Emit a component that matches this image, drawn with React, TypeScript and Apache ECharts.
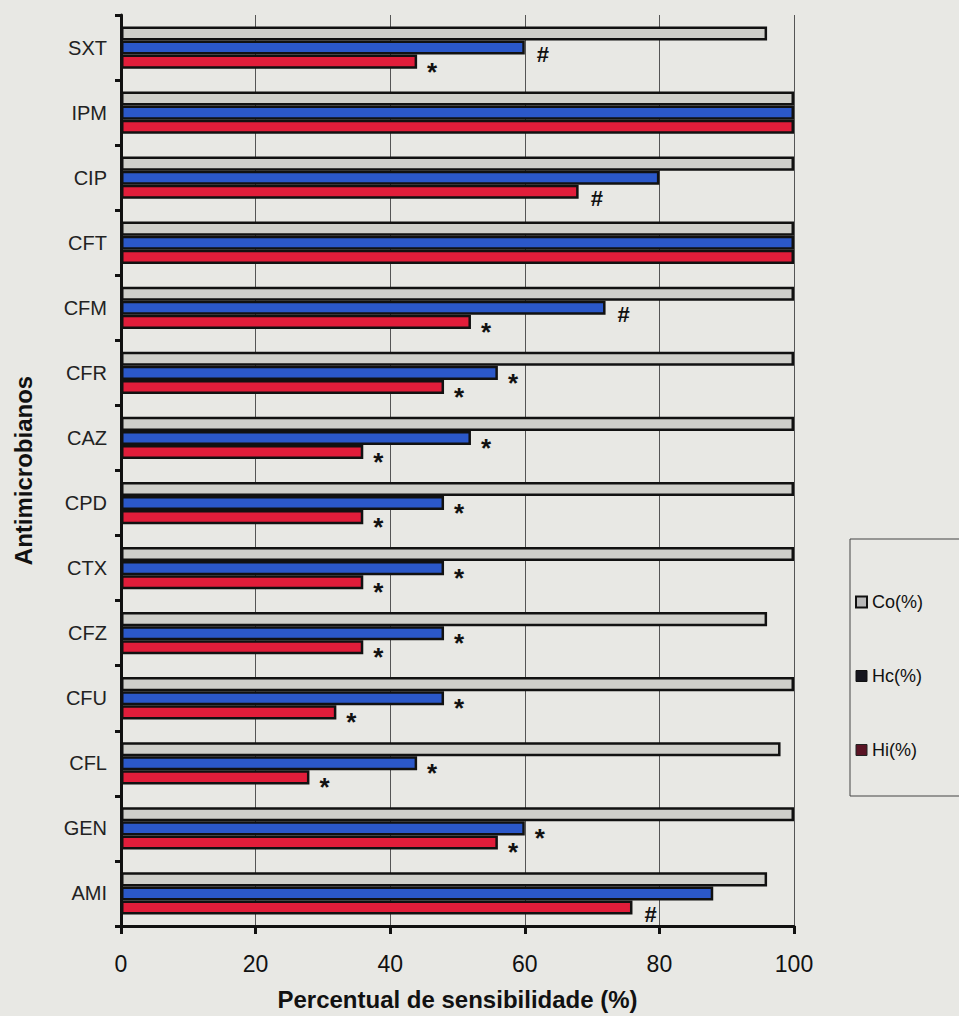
import React, { useEffect, useRef } from "react";
import * as echarts from "echarts";

const categories = ["SXT", "IPM", "CIP", "CFT", "CFM", "CFR", "CAZ", "CPD", "CTX", "CFZ", "CFU", "CFL", "GEN", "AMI"];
const coValues = [96, 100, 100, 100, 100, 100, 100, 100, 100, 96, 100, 98, 100, 96];
const hcValues = [60, 100, 80, 100, 72, 56, 52, 48, 48, 48, 48, 44, 60, 88];
const hiValues = [44, 100, 68, 100, 52, 48, 36, 36, 36, 36, 32, 28, 56, 76];
const hcMarks = ["#", "", "", "", "#", "*", "*", "*", "*", "*", "*", "*", "*", ""];
const hiMarks = ["*", "", "#", "", "*", "*", "*", "*", "*", "*", "*", "*", "*", "#"];
const xTicks = [0, 20, 40, 60, 80, 100];
const seriesNames = ["Co(%)", "Hc(%)", "Hi(%)"];

const FONT = '"Liberation Sans", Arial, sans-serif';

const markLabel = (m: string) =>
  m
    ? {
        show: true,
        formatter: m,
        position: "right",
        distance: m === "#" ? 8 : 6,
        offset: m === "#" ? [4, 7] : [4, 10],
        fontSize: m === "#" ? 22 : 26,
        fontWeight: "bold",
        fontFamily: FONT,
        color: "#111",
      }
    : { show: false };

export default function App() {
  const ref = useRef<HTMLDivElement>(null);
  useEffect(() => {
    document.body.style.margin = "0";
    const chart = echarts.init(ref.current!, null, { renderer: "svg" });
    chart.setOption({
      animation: false,
      backgroundColor: "#e8e8e4",
      grid: { left: 121, right: 165, top: 15, bottom: 88, containLabel: false },
      legend: {
        orient: "vertical",
        left: 850,
        top: 539,
        padding: [54, 60, 37, 5],
        itemGap: 56,
        itemWidth: 11,
        itemHeight: 11,
        borderColor: "#444",
        borderWidth: 1,
        textStyle: { fontSize: 18, color: "#111", fontFamily: FONT },
        data: [
          { name: seriesNames[0], icon: "rect", itemStyle: { color: "#b8b8b8", borderColor: "#111", borderWidth: 2 } },
          { name: seriesNames[1], icon: "rect", itemStyle: { color: "#16161e", borderColor: "#111", borderWidth: 1 } },
          { name: seriesNames[2], icon: "rect", itemStyle: { color: "#5a1424", borderColor: "#222", borderWidth: 1 } },
        ],
      },
      xAxis: {
        type: "value",
        min: 0,
        max: 100,
        interval: 20,
        name: "Percentual de sensibilidade (%)",
        nameLocation: "middle",
        nameGap: 61,
        nameTextStyle: { fontSize: 24, fontWeight: "bold", color: "#111", fontFamily: FONT },
        axisLine: { show: true, lineStyle: { color: "#111", width: 3 } },
        axisTick: { show: true, length: 8, lineStyle: { color: "#111", width: 3 } },
        axisLabel: {
          fontSize: 23,
          color: "#111",
          margin: 26,
          fontFamily: FONT,
          formatter: (v: number) => (xTicks.includes(v) ? String(v) : ""),
        },
        splitLine: { show: true, lineStyle: { color: "#555", width: 1 } },
      },
      yAxis: {
        type: "category",
        data: categories,
        inverse: true,
        name: "Antimicrobianos",
        nameLocation: "middle",
        nameRotate: 90,
        nameGap: 86,
        nameTextStyle: { fontSize: 24, fontWeight: "bold", color: "#111", fontFamily: FONT },
        axisLine: { show: true, lineStyle: { color: "#111", width: 3 } },
        axisTick: { show: true, length: 6, lineStyle: { color: "#111", width: 3 } },
        axisLabel: { fontSize: 20, color: "#222", margin: 14, fontFamily: FONT },
      },
      series: [
        {
          name: seriesNames[0],
          type: "bar",
          barGap: "0%",
          barCategoryGap: "35%",
          itemStyle: { color: "#cfcfca", borderColor: "#111", borderWidth: 2.5 },
          data: coValues,
        },
        {
          name: seriesNames[1],
          type: "bar",
          itemStyle: { color: "#2b58c9", borderColor: "#111", borderWidth: 2.5 },
          data: hcValues.map((v, i) => ({ value: v, label: markLabel(hcMarks[i]) })),
        },
        {
          name: seriesNames[2],
          type: "bar",
          itemStyle: { color: "#e11d3a", borderColor: "#111", borderWidth: 2.5 },
          data: hiValues.map((v, i) => ({ value: v, label: markLabel(hiMarks[i]) })),
        },
      ],
    });
    return () => chart.dispose();
  }, []);
  return <div ref={ref} style={{ position: "absolute", left: 0, top: 0, width: 959, height: 1016 }} />;
}
